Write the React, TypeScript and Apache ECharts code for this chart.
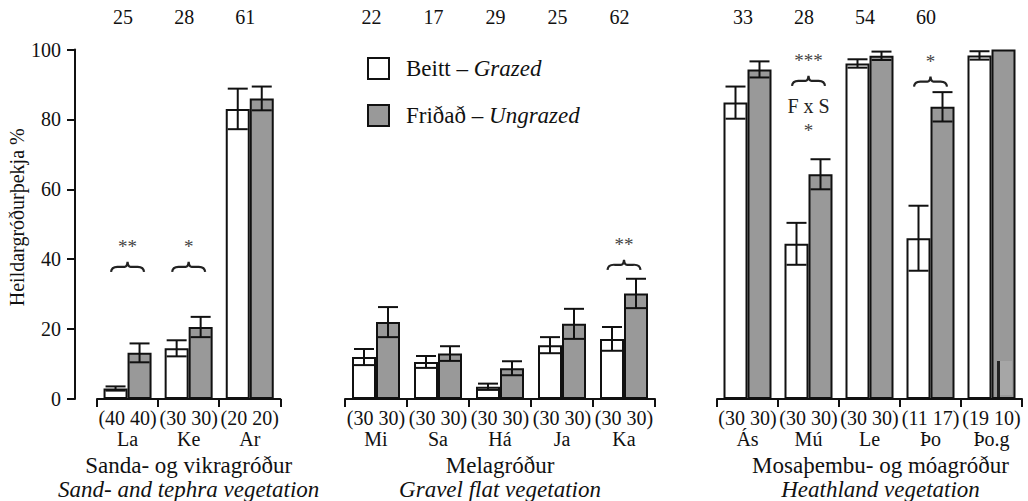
import React, { useEffect, useRef } from 'react';
import * as echarts from 'echarts';

const FONT = 'Liberation Serif';

const groupCategories = [
  ['La', 'Ke', 'Ar'],
  ['Mi', 'Sa', 'Há', 'Ja', 'Ka'],
  ['Ás', 'Mú', 'Le', 'Þo', 'Þo.g'],
];
const sampleSizes = [
  ['(40 40)', '(30 30)', '(20 20)'],
  ['(30 30)', '(30 30)', '(30 30)', '(30 30)', '(30 30)'],
  ['(30 30)', '(30 30)', '(30 30)', '(11 17)', '(19 10)'],
];
const topNumbers = [
  ['25', '28', '61'],
  ['22', '17', '29', '25', '62'],
  ['33', '28', '54', '60', ''],
];
const groupNames = ['Sanda- og vikragróður', 'Melagróður', 'Mosaþembu- og móagróður'];
const groupNamesEn = ['Sand- and tephra vegetation', 'Gravel flat vegetation', 'Heathland vegetation'];

const grazedMean = [
  [3, 14.5, 83],
  [12, 10.6, 3.5, 15.4, 17.2],
  [84.8, 44.4, 96, 46, 98.3],
];
const grazedErr = [
  [0.6, 2.3, 5.8],
  [2.3, 1.7, 0.9, 2.3, 3.4],
  [4.6, 6, 1.2, 9.3, 1.2],
];
const ungrazedMean = [
  [13.2, 20.6, 86],
  [22, 13, 8.8, 21.5, 30.2],
  [94.3, 64.3, 98.2, 83.6, 100],
];
const ungrazedErr = [
  [2.7, 2.9, 3.4],
  [4.3, 2.1, 2, 4.3, 4.2],
  [2.3, 4.3, 1.2, 4.2, null],
];

const sigCategories = ['La', 'Ke', 'Ka', 'Mú', 'Þo'];
const sigStars = ['**', '*', '**', '***', '*'];
const sigLevels = [37.8, 37.8, 38.4, 91, 90.8];
const interactionCategory = 'Mú';
const interactionLabel = 'F x S';
const interactionStars = '*';

const yTicks = [0, 20, 40, 60, 80, 100];

const SERIES_NAMES = ['Beitt – Grazed', 'Friðað – Ungrazed'];
const GRAY = '#999999';

const gridBoxes = [
  { left: 97, width: 183.3 },
  { left: 345, width: 310 },
  { left: 717, width: 305 },
];

function buildOption() {
  const grids: any[] = [];
  const xAxes: any[] = [];
  const yAxes: any[] = [];
  const series: any[] = [];
  const barWidth = 24;

  groupCategories.forEach((cats, g) => {
    grids.push({
      left: gridBoxes[g].left,
      width: gridBoxes[g].width,
      top: 49.5,
      height: 349.5,
      outerBoundsMode: 'none',
      containLabel: false,
    });
    xAxes.push({
      type: 'category',
      gridIndex: g,
      data: cats,
      position: 'bottom',
      axisLine: { show: true, lineStyle: { color: '#111', width: 2 } },
      axisTick: { show: true, length: 8, lineStyle: { color: '#111', width: 2 } },
      axisLabel: {
        interval: 0,
        margin: 8,
        formatter: (v: string, i: number) => `${sampleSizes[g][i]}\n${v}`,
        fontFamily: FONT,
        fontSize: 20,
        lineHeight: 21,
        color: '#111',
      },
      name: `{a|${groupNames[g]}}\n{b|${groupNamesEn[g]}}`,
      nameLocation: 'middle',
      nameGap: 49,
      nameTextStyle: {
        padding: g === 2 ? [0, 0, 0, 22] : 0,
        rich: {
          a: { fontFamily: FONT, fontSize: 23, lineHeight: 24, color: '#111' },
          b: { fontFamily: FONT, fontSize: 23, lineHeight: 24, fontStyle: 'italic', color: '#111' },
        },
      },
    });
    xAxes.push({
      type: 'category',
      gridIndex: g,
      data: topNumbers[g],
      position: 'top',
      axisLine: { show: false },
      axisTick: { show: false },
      axisLabel: {
        interval: 0,
        margin: 23,
        fontFamily: FONT,
        fontSize: 20,
        color: '#111',
        padding: [0, 9, 0, 0],
      },
    });
    yAxes.push({
      type: 'value',
      gridIndex: g,
      min: 0,
      max: 100,
      interval: 20,
      show: g === 0,
      offset: 22,
      axisLine: { show: true, lineStyle: { color: '#111', width: 2 } },
      axisTick: { show: true, length: 8, lineStyle: { color: '#111', width: 2 } },
      axisLabel: {
        margin: 14,
        fontFamily: FONT,
        fontSize: 20,
        color: '#111',
        formatter: (v: number) => (yTicks.includes(v) ? String(v) : ''),
      },
      splitLine: { show: false },
      name: g === 0 ? 'Heildargróðurþekja %' : '',
      nameLocation: 'middle',
      nameGap: 47,
      nameTextStyle: { fontFamily: FONT, fontSize: 20, color: '#111', padding: [0, 0, 0, 14] },
    });

    const xIdx = g * 2;
    series.push({
      name: SERIES_NAMES[0],
      type: 'bar',
      xAxisIndex: xIdx,
      yAxisIndex: g,
      barWidth,
      barGap: '0%',
      data: grazedMean[g],
      itemStyle: { color: '#ffffff', borderColor: '#111', borderWidth: 2 },
      z: 2,
    });
    series.push({
      name: SERIES_NAMES[1],
      type: 'bar',
      xAxisIndex: xIdx,
      yAxisIndex: g,
      barWidth,
      barGap: '0%',
      data: ungrazedMean[g],
      itemStyle: { color: GRAY, borderColor: '#111', borderWidth: 2 },
      z: 2,
    });

    const errSets = [
      { mean: grazedMean[g], err: grazedErr[g], offset: -barWidth / 2 },
      { mean: ungrazedMean[g], err: ungrazedErr[g], offset: barWidth / 2 },
    ];
    errSets.forEach((set) => {
      const data = set.mean
        .map((m, i) => (set.err[i] == null ? null : [i, m - (set.err[i] as number), m + (set.err[i] as number)]))
        .filter((d) => d != null);
      series.push({
        type: 'custom',
        xAxisIndex: xIdx,
        yAxisIndex: g,
        z: 5,
        silent: true,
        data,
        encode: { x: 0, y: [1, 2] },
        renderItem: (params: any, api: any) => {
          const c = api.value(0);
          const lo = api.coord([c, api.value(1)]);
          const hi = api.coord([c, api.value(2)]);
          const x = lo[0] + set.offset;
          const cap = 10;
          const st = { stroke: '#111', lineWidth: 2 };
          return {
            type: 'group',
            children: [
              { type: 'line', shape: { x1: x, y1: lo[1], x2: x, y2: hi[1] }, style: st },
              { type: 'line', shape: { x1: x - cap, y1: lo[1], x2: x + cap, y2: lo[1] }, style: st },
              { type: 'line', shape: { x1: x - cap, y1: hi[1], x2: x + cap, y2: hi[1] }, style: st },
            ],
          };
        },
      });
    });

    const sigIdx = sigCategories
      .map((c, i) => ({ c, i }))
      .filter((o) => cats.includes(o.c));
    if (sigIdx.length) {
      series.push({
        type: 'custom',
        xAxisIndex: xIdx,
        yAxisIndex: g,
        z: 6,
        silent: true,
        data: sigIdx.map((o) => [cats.indexOf(o.c), sigLevels[o.i], o.i]),
        encode: { x: 0, y: 1 },
        renderItem: (params: any, api: any) => {
          const p = api.coord([api.value(0), api.value(1)]);
          const k = api.value(2);
          const x = p[0];
          const y = p[1];
          const d = `M${x - 16.5},${y + 5} Q${x - 16},${y - 0.5} ${x - 9},${y} L${x - 3},${y} Q${x - 0.5},${y} ${x},${y - 5} Q${x + 0.5},${y} ${x + 3},${y} L${x + 9},${y} Q${x + 16},${y - 0.5} ${x + 16.5},${y + 5}`;
          const children: any[] = [
            { type: 'path', shape: { pathData: d }, style: { fill: 'none', stroke: '#222', lineWidth: 2.2 } },
            {
              type: 'text',
              x,
              y: y - 20,
              style: {
                text: sigStars[k],
                fontFamily: FONT,
                fontSize: 19,
                fill: '#444',
                align: 'center',
                verticalAlign: 'middle',
              },
            },
          ];
          if (sigCategories[k] === interactionCategory) {
            children.push({
              type: 'text',
              x,
              y: y + 25,
              style: {
                text: interactionLabel,
                fontFamily: FONT,
                fontSize: 20,
                fill: '#222',
                align: 'center',
                verticalAlign: 'middle',
              },
            });
            children.push({
              type: 'text',
              x,
              y: y + 50,
              style: {
                text: interactionStars,
                fontFamily: FONT,
                fontSize: 19,
                fill: '#444',
                align: 'center',
                verticalAlign: 'middle',
              },
            });
          }
          return { type: 'group', children };
        },
      });
    }
  });

  return {
    animation: false,
    backgroundColor: '#ffffff',
    grid: grids,
    xAxis: xAxes,
    yAxis: yAxes,
    legend: {
      data: SERIES_NAMES,
      orient: 'vertical',
      left: 362,
      top: 52,
      itemWidth: 21,
      itemHeight: 21,
      itemGap: 24,
      icon: 'rect',
      selectedMode: false,
      formatter: (name: string) => {
        const parts = name.split(' – ');
        return `{a|${parts[0]} – }{b|${parts[1]}}`;
      },
      textStyle: {
        padding: [0, 0, 0, 12],
        rich: {
          a: { fontFamily: FONT, fontSize: 23, color: '#111' },
          b: { fontFamily: FONT, fontSize: 23, fontStyle: 'italic', color: '#111' },
        },
      },
    },
    graphic: [
      { type: 'rect', shape: { x: 1000, y: 361, width: 12, height: 34 }, style: { fill: '#a6a6a6' }, z: 10 },
      { type: 'rect', shape: { x: 997, y: 361, width: 3, height: 36 }, style: { fill: '#222' }, z: 10 },
    ],
    series,
  };
}

export default function App() {
  const ref = useRef<HTMLDivElement>(null);
  useEffect(() => {
    if (!ref.current) return;
    const chart = echarts.init(ref.current, undefined, { renderer: 'svg' });
    chart.setOption(buildOption() as any);
    return () => chart.dispose();
  }, []);
  return (
    <div
      ref={ref}
      style={{ position: 'fixed', left: 0, top: 0, width: 1028, height: 501, background: '#fff' }}
    />
  );
}
